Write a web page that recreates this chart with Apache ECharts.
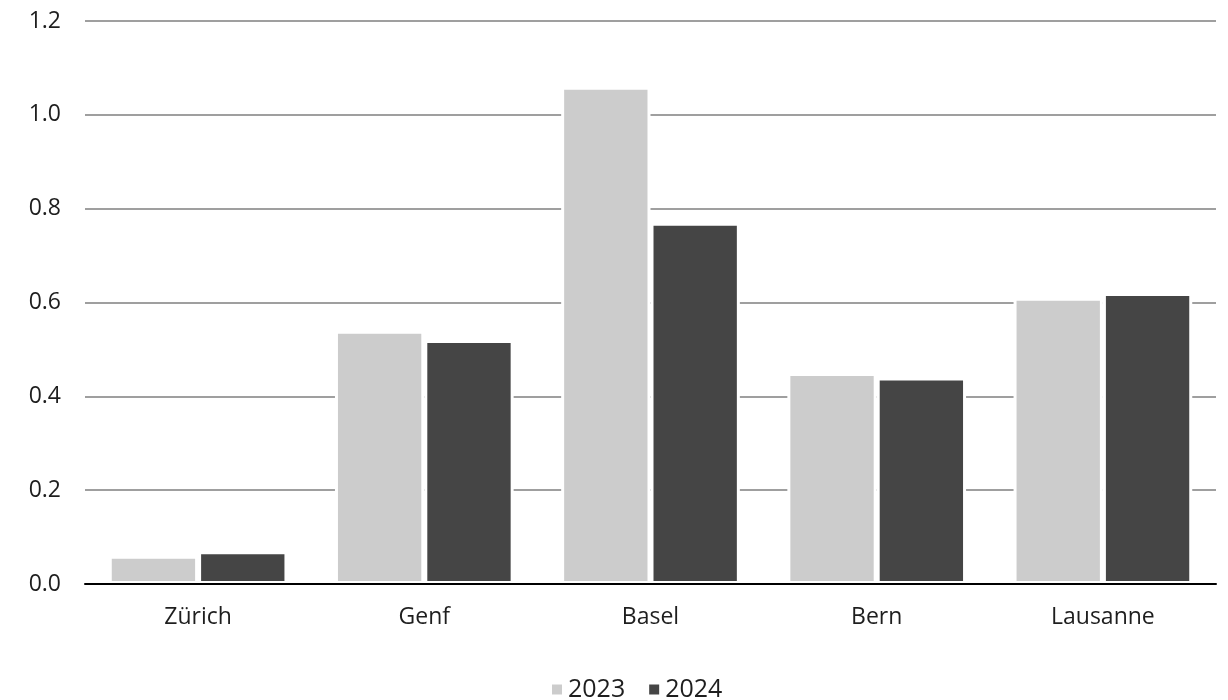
<!DOCTYPE html>
<html>
<head>
<meta charset="utf-8">
<script src="https://cdn.jsdelivr.net/npm/echarts@6/dist/echarts.min.js"></script>
<style>
  html, body { margin: 0; padding: 0; background: #ffffff; }
  #chart { width: 1228px; height: 700px; }
</style>
</head>
<body>
<div id="chart"></div>
<script>
// Cities on the x axis
const cities = ['Zürich', 'Genf', 'Basel', 'Bern', 'Lausanne'];
// Values per year
const values2023 = [0.06, 0.54, 1.06, 0.45, 0.61];
const values2024 = [0.07, 0.52, 0.77, 0.44, 0.62];
const seriesNames = ['2023', '2024'];

const FONT = '"Open Sans", "Noto Sans", sans-serif';

const chart = echarts.init(document.getElementById('chart'), null, { renderer: 'canvas' });

chart.setOption({
  animation: false,
  backgroundColor: '#ffffff',
  textStyle: { fontFamily: FONT },
  grid: { left: 85, right: 12, top: 21, bottom: 116, containLabel: false },
  legend: {
    top: 672,
    left: 545,
    itemWidth: 12,
    itemHeight: 12,
    itemGap: 22,
    icon: 'rect',
    textStyle: { fontFamily: FONT, fontSize: 25, color: '#1e1e1e', padding: [0, 0, 0, 0] },
    data: seriesNames
  },
  xAxis: {
    type: 'category',
    data: cities,
    z: 5,
    axisLine: { show: true, lineStyle: { color: '#000000', width: 2 } },
    axisTick: { show: false },
    axisLabel: { fontFamily: FONT, fontSize: 23, color: '#1e1e1e', margin: 22 }
  },
  yAxis: {
    type: 'value',
    min: 0,
    max: 1.2,
    interval: 0.2,
    axisLine: { show: false },
    axisTick: { show: false },
    axisLabel: {
      fontFamily: FONT, fontSize: 23, color: '#1e1e1e', margin: 24,
      formatter: v => v.toFixed(1)
    },
    splitLine: { show: true, lineStyle: { color: '#7f7f7f', width: 1.5 } }
  },
  series: [
    {
      name: seriesNames[0],
      type: 'bar',
      data: values2023,
      barGap: '0%',
      barCategoryGap: '21%',
      itemStyle: { color: '#cccccc', borderColor: '#ffffff', borderWidth: 3 }
    },
    {
      name: seriesNames[1],
      type: 'bar',
      data: values2024,
      itemStyle: { color: '#454545', borderColor: '#ffffff', borderWidth: 3 }
    }
  ]
});
</script>
</body>
</html>
